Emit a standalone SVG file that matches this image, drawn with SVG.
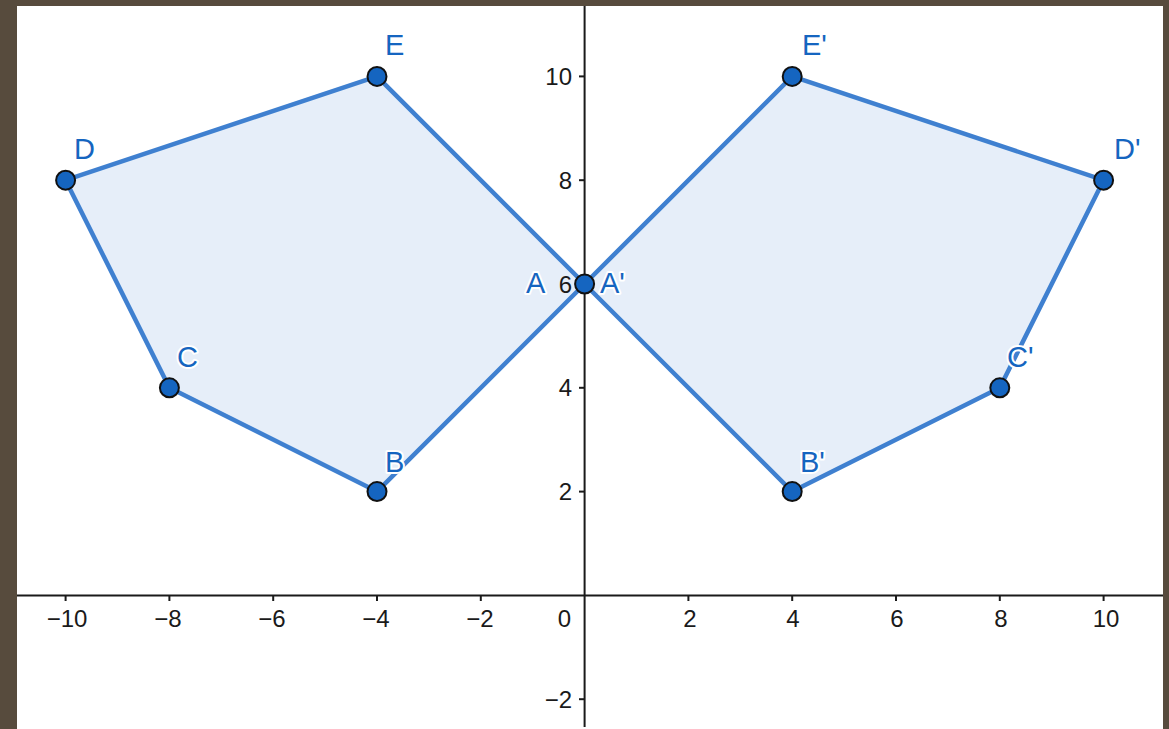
<svg xmlns="http://www.w3.org/2000/svg" width="1169" height="729" viewBox="0 0 1169 729">
<style>
.ax{stroke:#1a1a1a;stroke-width:2;fill:none}
.tk{stroke:#1a1a1a;stroke-width:2}
.num{font-family:"Liberation Sans",Arial,sans-serif;font-size:24px;fill:#1a1a1a}
.poly{fill:#e6eef9;stroke:#3f80d0;stroke-width:4.5;stroke-linejoin:round}
.pt{fill:#1565c0;stroke:#111;stroke-width:2}
.lb{font-family:"Liberation Sans",Arial,sans-serif;font-size:29px;fill:#1565c0;stroke:#fff;stroke-width:4;paint-order:stroke;stroke-linejoin:round}
</style>
<rect x="0" y="0" width="1169" height="729" fill="#574b3d"/>
<rect x="17" y="6" width="1146" height="723" fill="#ffffff"/>
<g id="polygons">
<polygon id="poly1" class="poly" points="584.6,284 377,491.6 169.4,387.8 65.6,180.2 377,76.4"/>
<polygon id="poly2" class="poly" points="584.6,284 792.2,491.6 999.8,387.8 1103.6,180.2 792.2,76.4"/>
</g>
<g id="axes">
<line class="ax" x1="17" y1="595.4" x2="1163" y2="595.4"/>
<line class="ax" x1="584.6" y1="6" x2="584.6" y2="727"/>
<g id="xticks">
<line class="tk" x1="65.6" y1="595" x2="65.6" y2="601"/>
<line class="tk" x1="169.4" y1="595" x2="169.4" y2="601"/>
<line class="tk" x1="273.2" y1="595" x2="273.2" y2="601"/>
<line class="tk" x1="377" y1="595" x2="377" y2="601"/>
<line class="tk" x1="480.8" y1="595" x2="480.8" y2="601"/>
<line class="tk" x1="688.4" y1="595" x2="688.4" y2="601"/>
<line class="tk" x1="792.2" y1="595" x2="792.2" y2="601"/>
<line class="tk" x1="896" y1="595" x2="896" y2="601"/>
<line class="tk" x1="999.8" y1="595" x2="999.8" y2="601"/>
<line class="tk" x1="1103.6" y1="595" x2="1103.6" y2="601"/>
</g>
<g id="yticks">
<line class="tk" x1="579" y1="699.2" x2="585" y2="699.2"/>
<line class="tk" x1="579" y1="491.6" x2="585" y2="491.6"/>
<line class="tk" x1="579" y1="387.8" x2="585" y2="387.8"/>
<line class="tk" x1="579" y1="284" x2="585" y2="284"/>
<line class="tk" x1="579" y1="180.2" x2="585" y2="180.2"/>
<line class="tk" x1="579" y1="76.4" x2="585" y2="76.4"/>
</g>
<g id="xlabels" class="num" text-anchor="middle">
<text x="67" y="627">−10</text>
<text x="168" y="627">−8</text>
<text x="272" y="627">−6</text>
<text x="376" y="627">−4</text>
<text x="480" y="627">−2</text>
<text x="690" y="627">2</text>
<text x="793" y="627">4</text>
<text x="897" y="627">6</text>
<text x="1001" y="627">8</text>
<text x="1106" y="627">10</text>
</g>
<text class="num" x="571" y="627" text-anchor="end">0</text>
<g id="ylabels" class="num" text-anchor="end">
<text x="572" y="708">−2</text>
<text x="572" y="500">2</text>
<text x="572" y="396">4</text>
<text x="572" y="293">6</text>
<text x="572" y="189">8</text>
<text x="572" y="85">10</text>
</g>
</g>
<g id="points">
<g id="pA"><circle class="pt" cx="584.6" cy="284" r="9.5"/></g>
<g id="pB"><circle class="pt" cx="377" cy="491.6" r="9.5"/></g>
<g id="pC"><circle class="pt" cx="169.4" cy="387.8" r="9.5"/></g>
<g id="pD"><circle class="pt" cx="65.6" cy="180.2" r="9.5"/></g>
<g id="pE"><circle class="pt" cx="377" cy="76.4" r="9.5"/></g>
<g id="pB2"><circle class="pt" cx="792.2" cy="491.6" r="9.5"/></g>
<g id="pC2"><circle class="pt" cx="999.8" cy="387.8" r="9.5"/></g>
<g id="pD2"><circle class="pt" cx="1103.6" cy="180.2" r="9.5"/></g>
<g id="pE2"><circle class="pt" cx="792.2" cy="76.4" r="9.5"/></g>
</g>
<g id="labels" class="lb">
<text x="526" y="293">A</text>
<text x="600" y="293">A'</text>
<text x="385" y="472">B</text>
<text x="800" y="472">B'</text>
<text x="177" y="367">C</text>
<text x="1007" y="367">C'</text>
<text x="74" y="159">D</text>
<text x="1114" y="159">D'</text>
<text x="385" y="55">E</text>
<text x="802" y="55">E'</text>
</g>
</svg>
